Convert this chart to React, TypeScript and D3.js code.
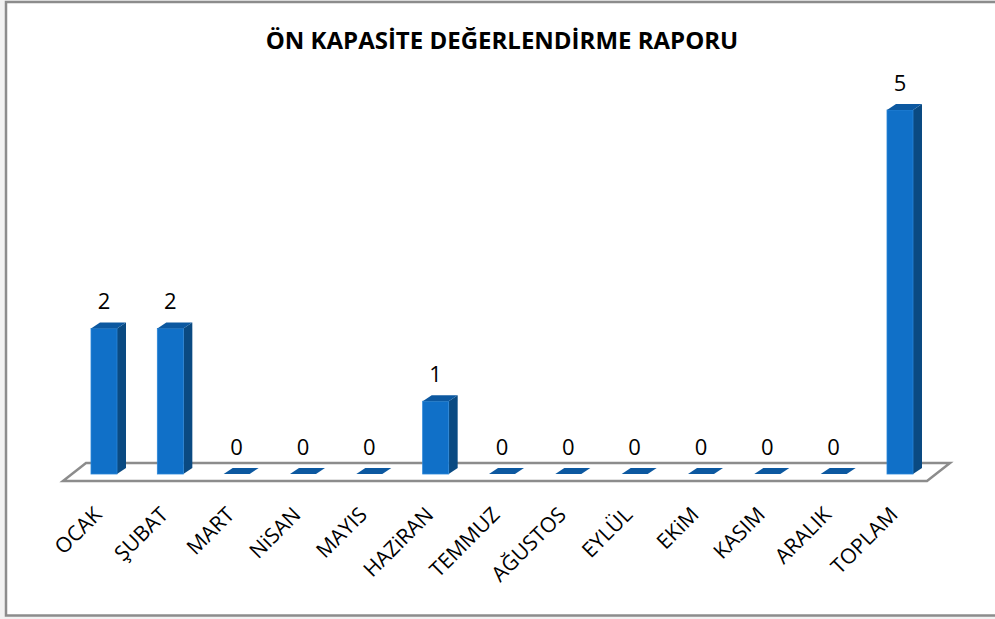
import React, { useEffect } from 'react';
import * as d3 from 'd3';

const months = ['OCAK', 'ŞUBAT', 'MART', 'NiSAN', 'MAYIS', 'HAZiRAN', 'TEMMUZ', 'AĞUSTOS', 'EYLÜL', 'EKiM', 'KASIM', 'ARALIK', 'TOPLAM'];
const counts = [2, 2, 0, 0, 0, 1, 0, 0, 0, 0, 0, 0, 5];
const title = 'ÖN KAPASİTE DEĞERLENDİRME RAPORU';

const W = 995;
const H = 619;

export default function App() {
  useEffect(() => {
    document.body.style.margin = '0';
  }, []);

  const x = d3.scalePoint<string>().domain(months).range([104, 900]);
  const y = d3.scaleLinear().domain([0, 5]).range([474, 110]);

  const barW = 26;
  const dx = 9; // 3d depth offsets
  const dy = 6;

  // floor
  const fl = { x0: 63, x1: 927, yFront: 481, depthX: 23, depthY: 18 };
  const floorPts = [
    [fl.x0, fl.yFront],
    [fl.x1, fl.yFront],
    [fl.x1 + fl.depthX, fl.yFront - fl.depthY],
    [fl.x0 + fl.depthX, fl.yFront - fl.depthY],
  ];

  const poly = (pts: number[][]) => pts.map(p => p.join(',')).join(' ');

  return (
    <svg width={W} height={H} style={{ display: 'block', fontFamily: '"Open Sans", sans-serif' }}>
      <rect x={0} y={0} width={W} height={H} fill="#f2f2f2" />
      <rect x={6} y={2} width={W + 10} height={613.5} fill="#fff" stroke="#8c8c8c" strokeWidth={2.5} />

      <text x={502} y={49} textAnchor="middle" fontSize={24} fontWeight="bold" fill="#000">
        {title}
      </text>

      <polygon points={poly(floorPts)} fill="#fff" stroke="#8c8c8c" strokeWidth={2.5} />

      {months.map((m, i) => {
        const cx = x(m)!;
        const l = cx - barW / 2;
        const r = cx + barW / 2;
        const top = y(counts[i]);
        const base = y(0);
        const v = counts[i];
        return (
          <g key={m}>
            {v > 0 && (
              <>
                <polygon points={poly([[r, base], [r, top], [r + dx, top - dy], [r + dx, base - dy]])} fill="#0a4a82" />
                <rect x={l} y={top} width={barW} height={base - top} fill="#1070c8" stroke="#2a86d8" strokeWidth={0.8} />
              </>
            )}
            <polygon points={poly([[l, top], [r, top], [r + dx, top - dy], [l + dx, top - dy]])} fill="#0c58a0" />
            <text x={cx} y={top - 19} textAnchor="middle" fontSize={22} fill="#000">{v}</text>
            <text
              transform={`translate(${cx - 1},516) rotate(-45)`}
              textAnchor="end"
              fontSize={21}
              fill="#000"
            >
              {m}
            </text>
          </g>
        );
      })}
    </svg>
  );
}
